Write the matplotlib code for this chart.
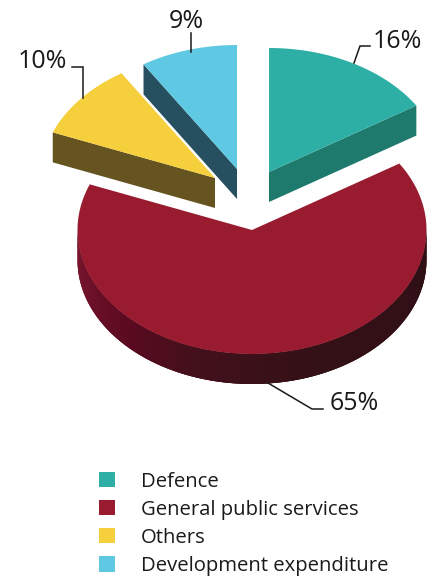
import matplotlib
matplotlib.use("Agg")
import matplotlib.pyplot as plt
import numpy as np
from matplotlib.colors import to_rgb
from matplotlib.patches import Patch, Polygon

plt.rcParams['font.family'] = ['Open Sans', 'DejaVu Sans']

# Shares of expenditure, clockwise from twelve o'clock
categorias = ["Defence", "General public services", "Others", "Development expenditure"]
valores = [16, 65, 10, 9]
rotulos = ["16%", "65%", "10%", "9%"]

cores_topo = ["#2dafa5", "#981b30", "#f5cf3c", "#5fc9e4"]
cores_lado = ["#1f7a6e", None, "#665420", "#26505f"]

# Pie geometry in figure pixels
RX, RY = 174.5, 124
PROF = 30
APICES = [(269, 172), (252, 230), (215, 178), (237, 169)]


def arco(apice, t0, t1):
    # Points on the tilted rim between two angles in degrees
    t = np.radians(np.linspace(t0, t1, 200))
    return apice[0] + RX * np.cos(t), apice[1] - RY * np.sin(t)


def cor_parede(t):
    # Shading of the curved wall, left to right
    paradas = [180, 225, 250, 285, 360]
    tons = [to_rgb(c) for c in ["#7d1731", "#5b0a20", "#43101c", "#351017", "#2e1015"]]
    return [np.interp(t, paradas, [c[i] for c in tons]) for i in range(3)]


def parede_curva(ax, apice, t0, t1):
    # The rim wall is a strip of quads, each one overlapping the next to hide seams
    inicio = max(t0, 180)
    fim = min(t1, 360)
    for t in np.arange(inicio, fim, 1.0):
        x, y = arco(apice, t, min(t + 3.0, fim))
        pts = [(x[0], y[0]), (x[-1], y[-1]), (x[-1], y[-1] + PROF), (x[0], y[0] + PROF)]
        ax.add_patch(Polygon(pts, closed=True, facecolor=cor_parede(t), edgecolor='none', zorder=2))


def desenhar_fatia(ax, apice, t0, t1, cor, cor_lado):
    x, y = arco(apice, t0, t1)
    if cor_lado is not None:
        # Straight side wall below the cut edge that faces the viewer
        borda = (x[0], y[0]) if apice[0] < x[0] else (x[-1], y[-1])
        pts = [apice, borda, (borda[0], borda[1] + PROF), (apice[0], apice[1] + PROF)]
        ax.add_patch(Polygon(pts, closed=True, facecolor=cor_lado, edgecolor='none', zorder=2))
    pts = np.vstack([[apice], np.column_stack([x, y])])
    ax.add_patch(Polygon(pts, closed=True, facecolor=cor, edgecolor='none', zorder=3))


fig = plt.figure(figsize=(4.34, 5.79), dpi=100)
ax = fig.add_axes([0, 0, 1, 1])
ax.set_xlim(0, 434)
ax.set_ylim(579, 0)
ax.axis('off')

# Angles come straight from the shares
angulo = 90.0
for i, v in enumerate(valores):
    fim = angulo - v * 3.6
    if cores_lado[i] is None:
        parede_curva(ax, APICES[i], fim + 360, angulo + 360)
    desenhar_fatia(ax, APICES[i], fim, angulo, cores_topo[i], cores_lado[i])
    angulo = fim

# Leader lines and percentage labels
linhas = [
    ([354, 360, 370], [63, 46, 46]),
    ([268, 312, 323], [383, 409, 409]),
    ([83, 83, 72], [98, 67, 67]),
    ([191, 191], [52, 33]),
]
pos_rotulos = [(397, 41), (354, 403), (42, 61), (186, 21)]
for (lx, ly), rotulo, pos in zip(linhas, rotulos, pos_rotulos):
    ax.plot(lx, ly, color='#1a1a1a', lw=1.1, solid_joinstyle='miter', zorder=4)
    ax.text(pos[0], pos[1], rotulo, fontsize=18, color='#1a1a1a', ha='center', va='center')

alcas = [Patch(facecolor=c, edgecolor='none') for c in cores_topo]
ax.legend(alcas, categorias, loc='upper left', bbox_to_anchor=(0.228, 0.1855), bbox_transform=fig.transFigure,
          frameon=False, fontsize=14.6, labelcolor='#1a1a1a', handlelength=0.79, handleheight=0.79,
          handletextpad=1.28, labelspacing=0.40, borderpad=0, borderaxespad=0)

fig.savefig("out.png", dpi=100)
